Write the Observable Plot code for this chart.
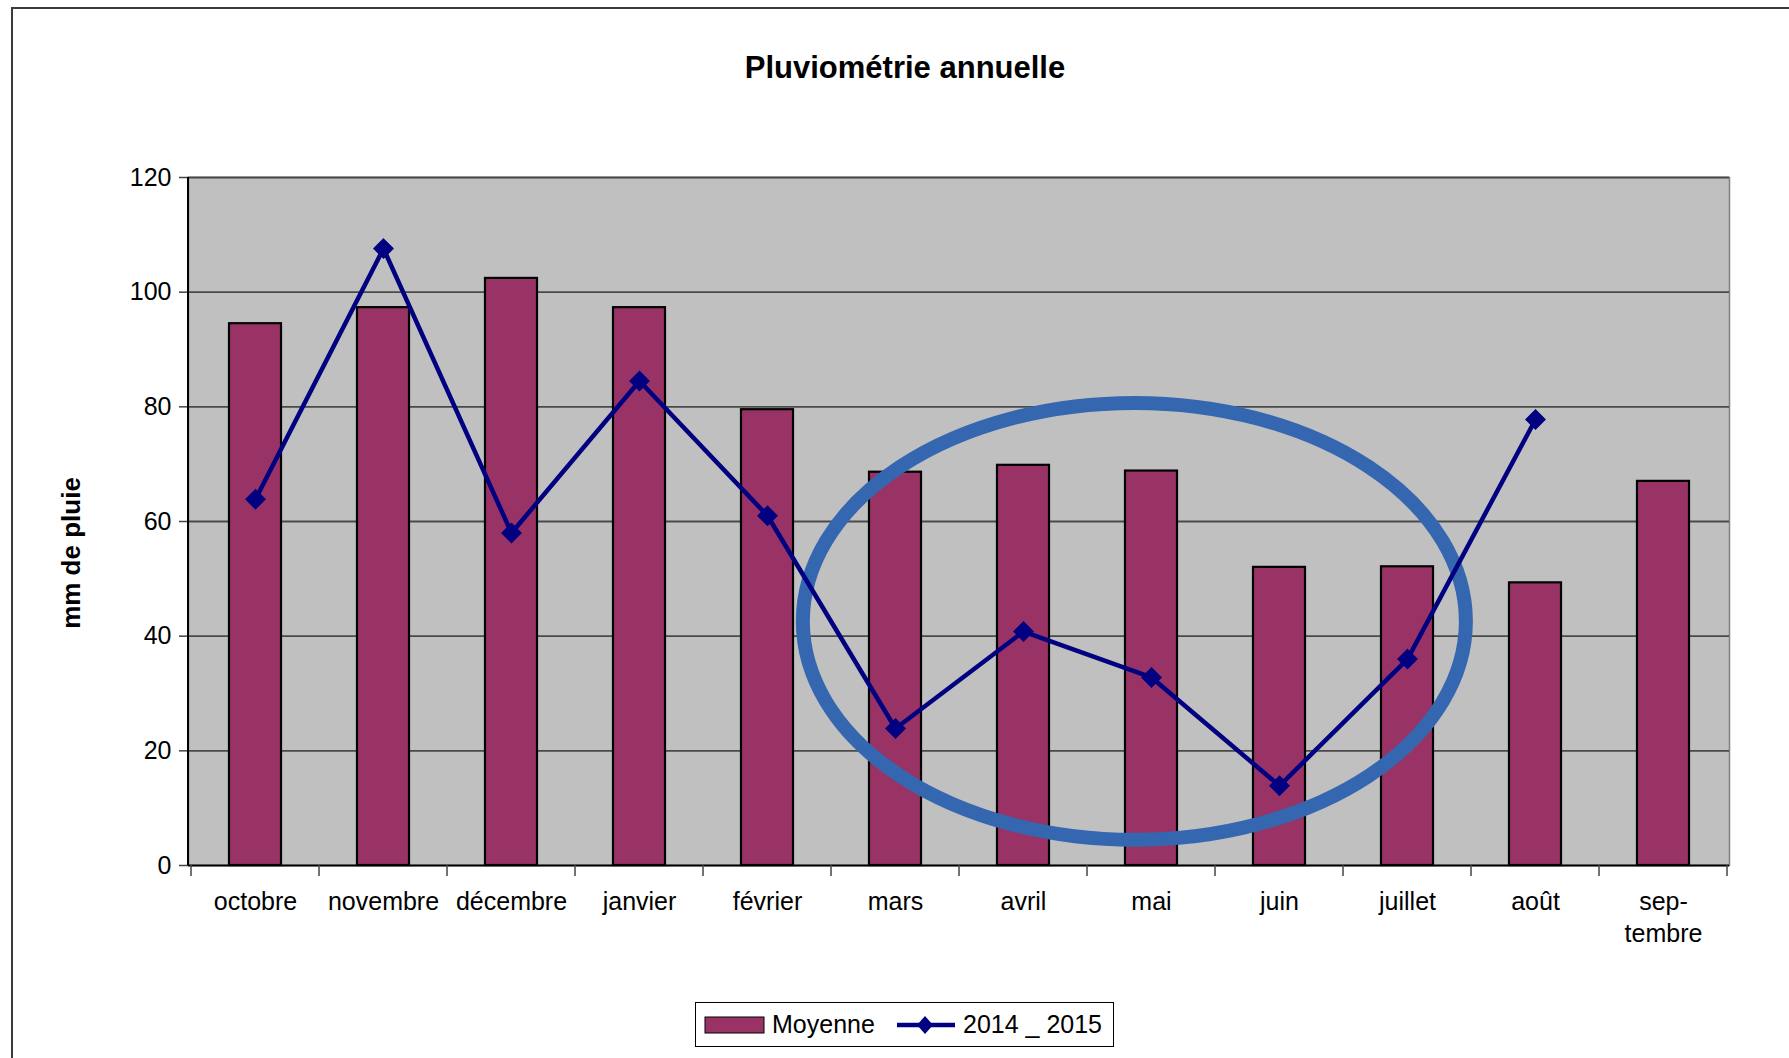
<!DOCTYPE html>
<html>
<head>
<meta charset="utf-8">
<script src="https://cdn.jsdelivr.net/npm/d3@7"></script>
<script src="https://cdn.jsdelivr.net/npm/@observablehq/plot@0.6"></script>
<style>
  body { margin: 0; background: #fff; font-family: "Liberation Sans", Arial, sans-serif; }
  #page { position: relative; width: 1789px; height: 1058px; overflow: hidden; background: #fff; }
  #frame { position: absolute; left: 11px; top: 7px; width: 1850px; height: 1100px; border-left: 2px solid #3a3a3a; border-top: 2px solid #3a3a3a; }
  #title { position: absolute; left: 0; width: 1810px; top: 50px; line-height: 36px; text-align: center; font-weight: bold; font-size: 31px; color: #000; }
  #ylabel { position: absolute; left: -29px; top: 538px; width: 200px; height: 30px; line-height: 30px; text-align: center; font-weight: bold; font-size: 26px; transform: rotate(-90deg); color: #000; }
  #chart { position: absolute; left: 0; top: 0; }
  #legend { position: absolute; left: 695px; top: 1002px; width: 417px; height: 43px; border: 1px solid #000; background: #fff; font-size: 25px; }
  #legend .item { position: absolute; top: 0; height: 43px; line-height: 43px; }
</style>
</head>
<body>
<div id="page">
  <div id="frame"></div>
  <div id="title">Pluviométrie annuelle</div>
  <div id="ylabel">mm de pluie</div>
  <div id="chart"></div>
  <div id="legend"></div>
</div>
<script>
// ---- data ----
const months = ["octobre", "novembre", "décembre", "janvier", "février", "mars", "avril", "mai", "juin", "juillet", "août", "septembre"];
const tickLabels = ["octobre", "novembre", "décembre", "janvier", "février", "mars", "avril", "mai", "juin", "juillet", "août", "sep-\ntembre"];
const moyenne = [94.5, 97.3, 102.4, 97.3, 79.5, 68.6, 69.8, 68.8, 52.0, 52.1, 49.3, 67.0];
const saison = [63.9, 107.6, 58.0, 84.5, 61.0, 23.9, 40.8, 32.8, 13.9, 36.0, 77.8, null];
const yTicks = [0, 20, 40, 60, 80, 100, 120];
const seriesNames = ["Moyenne", "2014 _ 2015"];
// annotation ellipse (data space: month band, value in mm)
const ellipseMonth = "mai";
const ellipseShift = -0.13;   // in band steps
const ellipseValue = 42.5;    // mm
const ellipseRx = 2.59;       // in band steps
const ellipseRy = 38.1;       // mm

const colBar = "#993366";
const colLine = "#000080";
const colEllipse = "#3567B0";

const data = months.map((m, i) => ({mois: m, moyenne: moyenne[i], saison: saison[i]}));
const lineData = data.filter(d => d.saison != null);
const labelOf = new Map(months.map((m, i) => [m, tickLabels[i]]));

// custom marks using Plot scales
function boundaryTicks(index, scales) {
  const {x, y} = scales;
  const step = x.step ? x.step() : x.bandwidth();
  const y0 = y(0);
  const g = d3.create("svg:g");
  const xs = months.map(m => x(m)).concat([x(months[months.length - 1]) + step]);
  for (const xv of xs) {
    g.append("line").attr("x1", xv).attr("x2", xv).attr("y1", y0).attr("y2", y0 + 11)
      .attr("stroke", "#444").attr("stroke-width", 1.5);
  }
  g.append("line").attr("x1", x.range()[0]).attr("x2", x.range()[0])
    .attr("y1", y(120)).attr("y2", y0).attr("stroke", "#000").attr("stroke-width", 2);
  return g.node();
}
function ellipseMark(index, scales) {
  const {x, y} = scales;
  const step = x.step ? x.step() : x.bandwidth();
  const cx = x(ellipseMonth) + x.bandwidth() / 2 + ellipseShift * step;
  const cy = y(ellipseValue);
  return d3.create("svg:ellipse")
    .attr("cx", cx).attr("cy", cy)
    .attr("rx", ellipseRx * step).attr("ry", Math.abs(y(ellipseRy) - y(0)))
    .attr("fill", "none").attr("stroke", colEllipse).attr("stroke-width", 14)
    .node();
}

const plot = Plot.plot({
  width: 1789,
  height: 1000,
  marginTop: 177,
  marginBottom: 135,
  marginLeft: 188,
  marginRight: 60,
  style: {fontFamily: "'Liberation Sans', Arial, sans-serif", fontSize: "25px", color: "#000", background: "transparent"},
  x: {type: "band", domain: months, padding: 0},
  y: {domain: [0, 120]},
  marks: [
    Plot.frame({fill: "#C0C0C0", stroke: "#808080", strokeWidth: 1.5}),
    Plot.gridY(yTicks.filter(t => t > 0), {stroke: "#4a4a4a", strokeOpacity: 1, strokeWidth: 1.8}),
    Plot.axisY(yTicks, {tickSize: 9, tickPadding: 8, fontSize: 25, label: null, stroke: "#444", strokeWidth: 1.5}),
    Plot.axisX({tickSize: 0, tickPadding: 22, fontSize: 25, label: null, lineHeight: 1.28, tickFormat: d => labelOf.get(d)}),
    Plot.barY(data, {x: "mois", y: "moyenne", fill: colBar, stroke: "#000", strokeWidth: 2.2, insetLeft: 38, insetRight: 38}),
    Plot.ruleY([0], {stroke: "#000", strokeWidth: 2}),
    boundaryTicks,
    ellipseMark,
    Plot.lineY(lineData, {x: "mois", y: "saison", stroke: colLine, strokeWidth: 4.5}),
    Plot.dot(lineData, {x: "mois", y: "saison", symbol: "diamond2", r: 8.5, fill: colLine, stroke: colLine})
  ]
});
document.getElementById("chart").appendChild(plot);

// legend
const legend = document.getElementById("legend");
legend.innerHTML = `
  <svg class="item" style="left:8px" width="62" height="43"><rect x="1" y="14" width="59" height="16" fill="${colBar}" stroke="#000" stroke-width="1"/></svg>
  <div class="item" style="left:76px">${seriesNames[0]}</div>
  <svg class="item" style="left:200px" width="62" height="43">
    <line x1="1" x2="59" y1="22" y2="22" stroke="${colLine}" stroke-width="4.5"/>
    <path d="M29,13 L37,22 L29,31 L21,22 Z" fill="${colLine}"/>
  </svg>
  <div class="item" style="left:267px">${seriesNames[1]}</div>
`;
</script>
</body>
</html>
